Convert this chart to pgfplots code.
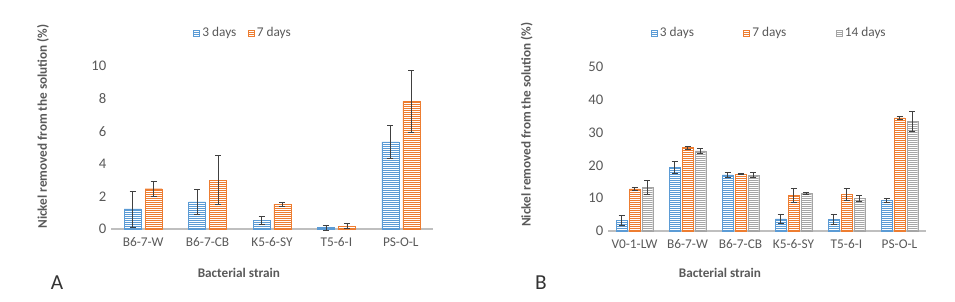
\documentclass[border=0pt]{standalone}
\usepackage{fontspec}
\setmainfont{Carlito}
\usepackage{pgfplots}
\pgfplotsset{compat=1.18}
\usetikzlibrary{patterns.meta}
\definecolor{cblue}{HTML}{5B9BD5}
\definecolor{corange}{HTML}{ED7D31}
\definecolor{cgray}{HTML}{A5A5A5}
\definecolor{txt}{HTML}{595959}
\definecolor{axgray}{HTML}{BFBFBF}
\definecolor{errc}{HTML}{404040}
\pgfplotsset{
  mybar/.style={fill=#1, draw=#1, line width=0.3pt,
    postaction={pattern={Lines[angle=0,distance=1.5pt,line width=0.45pt]}, pattern color=white},
    error bars/y dir=both, error bars/y explicit,
    error bars/error bar style={draw=errc, line width=0.5pt},
    error bars/error mark options={rotate=90, mark size=2.25pt, draw=errc, line width=0.5pt}},
  common/.style={
    scale only axis, ybar, ymin=0, enlargelimits=false, clip=false,
    axis x line*=bottom, axis y line*=left,
    y axis line style={draw=none},
    x axis line style={-, draw=axgray, line width=0.9pt},
    major tick length=0pt, tick style={draw=none},
    /pgf/number format/assume math mode=true,
    yticklabel style={text=txt, font=\fontsize{11}{13}\selectfont},
    xticklabel style={text=txt, font=\fontsize{10}{12}\selectfont, yshift=-3pt},
    xlabel={Bacterial strain},
    ylabel={Nickel removed from the solution (\%)},
    label style={text=txt, font=\bfseries\fontsize{9.9}{11}\selectfont},
    legend style={draw=none, fill=none, inner sep=0pt, font=\fontsize{10}{12}\selectfont, text=txt,
      legend cell align=left},
    legend image code/.code={\path[##1] (0pt,-2.25pt) rectangle (4.5pt,2.25pt);},
  },
}
\begin{document}
\begin{tikzpicture}
\useasboundingbox (0,0) rectangle (716.25pt,225.75pt);
\begin{axis}[common,
  at={(83.25pt,54pt)}, anchor=south west,
  width=241.5pt, height=122.25pt,
  xmin=-0.5, xmax=4.5, ymax=10, ytick={0,2,...,10},
  xtick={0,...,4}, xticklabels={B6-7-W,B6-7-CB,K5-6-SY,T5-6-I,PS-O-L},
  bar width=0.264,
  xlabel style={at={(axis description cs:0.397,-0.272)}, anchor=center},
  ylabel style={at={(axis description cs:-0.211,0.629)}, anchor=center},
  legend columns=2,
  legend style={at={(axis description cs:0.2547,1.202)}, anchor=west,
    /tikz/every even column/.append style={column sep=6.5pt}},
]
\addplot[mybar=cblue, bar shift=-0.163] coordinates {
  (0,1.23) +- (0,1.10)
  (1,1.66) +- (0,0.77)
  (2,0.51) +- (0,0.25)
  (3,0.09) +- (0,0.16)
  (4,5.34) +- (0,1.00)
};
\addlegendentry{3 days}
\addplot[mybar=corange, bar shift=0.163] coordinates {
  (0,2.47) +- (0,0.45)
  (1,2.99) +- (0,1.50)
  (2,1.53) +- (0,0.12)
  (3,0.18) +- (0,0.15)
  (4,7.83) +- (0,1.90)
};
\addlegendentry{7 days}
\end{axis}
\begin{axis}[common,
  at={(456pt,52.5pt)}, anchor=south west,
  width=238.5pt, height=123.2pt,
  xmin=-0.5, xmax=5.5, ymax=50, ytick={0,10,...,50},
  xtick={0,...,5}, xticklabels={V0-1-LW,B6-7-W,B6-7-CB,K5-6-SY,T5-6-I,PS-O-L},
  bar width=0.198,
  xlabel style={at={(axis description cs:0.352,-0.257)}, anchor=center},
  ylabel style={at={(axis description cs:-0.256,0.648)}, anchor=center},
  legend columns=3,
  legend style={at={(axis description cs:0.134,1.205)}, anchor=west,
    /tikz/every even column/.append style={column sep=35pt}},
]
\addplot[mybar=cblue, bar shift=-0.245] coordinates {
  (0,3.25) +- (0,1.5)
  (1,19.4) +- (0,1.7)
  (2,17.1) +- (0,0.7)
  (3,3.7) +- (0,1.3)
  (4,3.5) +- (0,1.5)
  (5,9.3) +- (0,0.6)
};
\addlegendentry{3 days}
\addplot[mybar=corange, bar shift=0] coordinates {
  (0,12.8) +- (0,0.5)
  (1,25.4) +- (0,0.5)
  (2,17.3) +- (0,0.2)
  (3,10.8) +- (0,2.1)
  (4,11.2) +- (0,1.8)
  (5,34.4) +- (0,0.5)
};
\addlegendentry{7 days}
\addplot[mybar=cgray, bar shift=0.245] coordinates {
  (0,13.3) +- (0,2.1)
  (1,24.4) +- (0,0.7)
  (2,17.0) +- (0,0.8)
  (3,11.5) +- (0,0.3)
  (4,9.9) +- (0,0.9)
  (5,33.3) +- (0,3.0)
};
\addlegendentry{14 days}
\end{axis}
\node[text=black!80, font=\fontsize{16}{18}\selectfont] at (42.75pt,13.9pt) {A};
\node[text=black!80, font=\fontsize{16}{18}\selectfont] at (405.75pt,13.9pt) {B};
\end{tikzpicture}
\end{document}
